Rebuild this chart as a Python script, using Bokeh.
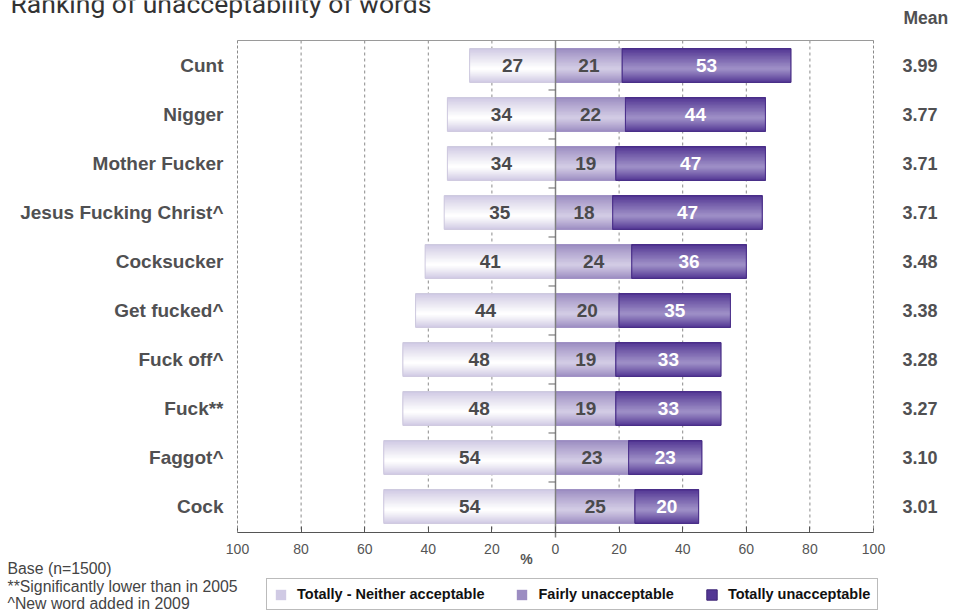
from bokeh.plotting import figure
from bokeh.models import (Range1d, LinearAxis, FixedTicker, Label, Legend, LegendItem,
                          ColumnDataSource)
from bokeh.core.properties import value
from bokeh.embed import file_html
from bokeh.resources import INLINE

# ---------------- data ----------------
words = ["Cunt", "Nigger", "Mother Fucker", "Jesus Fucking Christ^", "Cocksucker",
         "Get fucked^", "Fuck off^", "Fuck**", "Faggot^", "Cock"]
neither = [27, 34, 34, 35, 41, 44, 48, 48, 54, 54]          # Totally - Neither acceptable
fairly = [21, 22, 19, 18, 24, 20, 19, 19, 23, 25]           # Fairly unacceptable
totally = [53, 44, 47, 47, 36, 35, 33, 33, 23, 20]          # Totally unacceptable
means = [3.99, 3.77, 3.71, 3.71, 3.48, 3.38, 3.28, 3.27, 3.10, 3.01]
x_ticks = [-100, -80, -60, -40, -20, 0, 20, 40, 60, 80, 100]
x_tick_labels = ["100", "80", "60", "40", "20", "0", "20", "40", "60", "80", "100"]
grid_ticks = [-80, -60, -40, -20, 20, 40, 60, 80]
series_names = ["Totally - Neither acceptable", "Fairly unacceptable", "Totally unacceptable"]
footnotes = ["Base (n=1500)", "**Significantly lower than in 2005", "^New word added in 2009"]
title_text = "Ranking of unacceptability of words"

FONT = "Liberation Sans"
TXT = "#505052"

W, HGT = 956, 612
# chart area (pixels)
FL, FR, FT, FB = 237, 873, 40, 532
ROW = 49.0
Y_TOP = -0.51
Y_BOT = Y_TOP + (FB - FT) / ROW
SX = 200.0 / (FR - FL)


def xd(px):
    return -100 + (px - FL) * SX


def yd(py):
    return Y_TOP + (py - FT) / ROW


p = figure(width=W, height=HGT,
           x_range=Range1d(xd(0), xd(W)), y_range=Range1d(yd(HGT), yd(0)),
           output_backend="svg", toolbar_location=None,
           x_axis_location=None, y_axis_location=None,
           min_border_left=0, min_border_right=0, min_border_top=0, min_border_bottom=0)
p.outline_line_color = None
p.xgrid.visible = False
p.ygrid.visible = False

idx = list(range(len(words)))

# vertical dashed grid lines inside chart area
p.segment(x0=grid_ticks, x1=grid_ticks, y0=[Y_TOP] * len(grid_ticks), y1=[Y_BOT] * len(grid_ticks),
          line_color="#8a8a8a", line_dash="3 3", line_width=1)
# top border
p.segment(x0=[-100], x1=[100], y0=[Y_TOP], y1=[Y_TOP], line_color="#9a9a9a", line_width=1.2)

src = ColumnDataSource(dict(y=idx, nl=[-v for v in neither], zero=[0] * len(idx), fr=fairly,
                            tl=fairly, tr=[a + b for a, b in zip(fairly, totally)]))

H = 0.69


def hexrgb(h):
    h = h.lstrip("#")
    return tuple(int(h[i:i + 2], 16) for i in (0, 2, 4))


def lerp(c1, c2, t):
    a, b = hexrgb(c1), hexrgb(c2)
    return "#%02x%02x%02x" % tuple(int(round(a[i] + (b[i] - a[i]) * t)) for i in range(3))


def grad_bars(left, right, edge, hi, outline, legend_line):
    N = 14
    first = None
    for k in range(N):
        t = k / N
        hk = H * (1 - t)
        off = 0.10 * H * t
        ys = [y + off for y in idx]
        s = ColumnDataSource(dict(y=ys, l=src.data[left], r=src.data[right]))
        r = p.hbar(y="y", left="l", right="r", height=hk, source=s,
                   fill_color=lerp(edge, hi, (k / (N - 1)) ** 0.9),
                   line_color=legend_line if k == 0 else None)
        if first is None:
            first = r
    p.hbar(y="y", left=left, right=right, height=H, source=src,
           fill_color=None, line_color=outline, line_width=1)
    return first


r1 = grad_bars("nl", "zero", "#d0cae4", "#ffffff", "#cdc8de", None)
r2 = grad_bars("zero", "fr", "#9c8dc2", "#d2cbe4", "#9c8dc2", None)
r3 = grad_bars("tl", "tr", "#533794", "#9d8ec6", "#4a2f8a", "#3d2575")

# center line
p.segment(x0=[0], x1=[0], y0=[Y_TOP], y1=[yd(537)], line_color="#7f7f7f", line_width=1.5)

# small ticks at row boundaries on the center line
bounds = [i + 0.5 for i in idx[:-1]]
p.segment(x0=[xd(548)] * len(bounds), x1=[0] * len(bounds), y0=bounds, y1=bounds,
          line_color="#666666", line_width=1)

# value labels
lab = ColumnDataSource(dict(
    y=idx,
    xn=[-v / 2 for v in neither], tn=[str(v) for v in neither],
    xf=[v / 2 for v in fairly], tf=[str(v) for v in fairly],
    xt=[a + b / 2 for a, b in zip(fairly, totally)], tt=[str(v) for v in totally]))
for xc, tc, col in (("xn", "tn", "#4a4a4c"), ("xf", "tf", "#4a4a4c"), ("xt", "tt", "#ffffff")):
    p.text(x=xc, y="y", text=tc, source=lab, text_align="center", text_baseline="middle",
           text_font=value(FONT), text_font_style="bold", text_font_size="19px", text_color=col)

# axes (fixed inside the canvas-wide frame)
xaxis = LinearAxis(ticker=FixedTicker(ticks=x_ticks), fixed_location=Y_BOT, bounds=(-100, 100),
                   major_label_overrides={t: l for t, l in zip(x_ticks, x_tick_labels)})
xaxis.axis_line_color = "#555555"
xaxis.axis_line_width = 1.2
xaxis.major_tick_line_color = "#555555"
xaxis.major_tick_in = 6
xaxis.major_tick_out = 0
xaxis.minor_tick_line_color = None
xaxis.major_label_text_font = FONT
xaxis.major_label_text_font_size = "14px"
xaxis.major_label_text_color = "#555555"
xaxis.major_label_standoff = 11
p.add_layout(xaxis, "below")

yaxis = LinearAxis(ticker=FixedTicker(ticks=idx), fixed_location=-100, bounds=(Y_TOP, Y_BOT),
                   major_label_overrides={i: w for i, w in zip(idx, words)})
yaxis.axis_line_color = "#8a8a8a"
yaxis.axis_line_dash = "3 2"
yaxis.major_tick_line_color = None
yaxis.minor_tick_line_color = None
yaxis.major_label_standoff = 8
yaxis.major_label_text_font = FONT
yaxis.major_label_text_font_style = "bold"
yaxis.major_label_text_font_size = "19px"
yaxis.major_label_text_color = TXT
p.add_layout(yaxis, "left")

raxis = LinearAxis(ticker=FixedTicker(ticks=idx), fixed_location=100, bounds=(Y_TOP, Y_BOT),
                   major_label_overrides={i: f"{m:.2f}" for i, m in zip(idx, means)})
raxis.axis_line_color = "#8a8a8a"
raxis.axis_line_dash = "3 2"
raxis.major_tick_line_color = None
raxis.minor_tick_line_color = None
raxis.major_label_standoff = 23
raxis.major_label_text_font = FONT
raxis.major_label_text_font_style = "bold"
raxis.major_label_text_font_size = "18px"
raxis.major_label_text_color = TXT
p.add_layout(raxis, "right")

# annotations
p.add_layout(Label(x=xd(10), y=yd(2.5), text=title_text, text_font="Roboto",
                   text_font_size="26.5px", text_color="#333333", text_baseline="middle"))
p.add_layout(Label(x=xd(903), y=yd(17), text="Mean", text_font=FONT, text_font_style="bold",
                   text_font_size="17.5px", text_color=TXT, text_baseline="middle"))
p.add_layout(Label(x=xd(526), y=yd(558), text="%", text_font=FONT, text_font_style="bold",
                   text_font_size="14px", text_color="#555555", text_baseline="middle",
                   text_align="center"))
for k, fn in enumerate(footnotes):
    p.add_layout(Label(x=xd(7), y=yd(568 + 17.5 * k), text=fn, text_font=FONT,
                       text_font_size="15.8px", text_color="#444444", text_baseline="middle"))

legend = Legend(items=[LegendItem(label=series_names[0], renderers=[r1]),
                       LegendItem(label=series_names[1], renderers=[r2]),
                       LegendItem(label=series_names[2], renderers=[r3])],
                orientation="horizontal", location=(266, 2),
                glyph_width=13, glyph_height=13, label_standoff=10, spacing=31,
                padding=7, margin=0, label_height=14,
                label_text_font=FONT, label_text_font_style="bold", label_text_font_size="14.5px",
                label_text_color="#111111", border_line_color="#777777",
                background_fill_color="#ffffff", background_fill_alpha=1)
p.add_layout(legend, "center")

open("out.html", "w").write(file_html(p, INLINE))
